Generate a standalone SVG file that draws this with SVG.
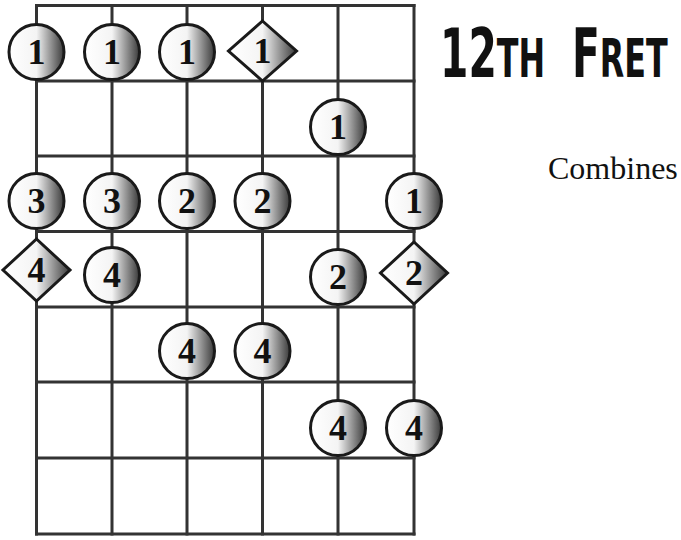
<svg xmlns="http://www.w3.org/2000/svg" width="681" height="540" viewBox="0 0 681 540">
<defs>
<linearGradient id="shade" x1="0" y1="0" x2="1" y2="0">
<stop offset="0" stop-color="#ffffff"/>
<stop offset="0.5" stop-color="#f4f4f4"/>
<stop offset="1" stop-color="#3a3a3a"/>
</linearGradient>
<style>
.grid line{stroke:#333;stroke-width:3;stroke-linecap:square}
.dot{fill:url(#shade);stroke:#1a1a1a;stroke-width:3}
.num{font-family:"Liberation Serif","DejaVu Serif",serif;font-weight:bold;font-size:36px;fill:#111;text-anchor:middle}
.title{font-family:"DejaVu Sans","Liberation Sans",sans-serif;font-weight:bold;fill:#111}
.big{font-size:68px}
.small{font-size:53px}
.cap{font-family:"Liberation Serif","Times New Roman",serif;font-size:32px;fill:#111}
</style>
</defs>
<rect width="681" height="540" fill="#fff"/>
<g id="grid" class="grid">
<line x1="36.5" y1="5.5" x2="36.5" y2="534"/>
<line x1="112" y1="5.5" x2="112" y2="534"/>
<line x1="187" y1="5.5" x2="187" y2="534"/>
<line x1="262.5" y1="5.5" x2="262.5" y2="534"/>
<line x1="338" y1="5.5" x2="338" y2="534"/>
<line x1="414" y1="5.5" x2="414" y2="534"/>
<line x1="36.5" y1="5.5" x2="414" y2="5.5"/>
<line x1="36.5" y1="81" x2="414" y2="81"/>
<line x1="36.5" y1="156" x2="414" y2="156"/>
<line x1="36.5" y1="231.5" x2="414" y2="231.5"/>
<line x1="36.5" y1="307" x2="414" y2="307"/>
<line x1="36.5" y1="382" x2="414" y2="382"/>
<line x1="36.5" y1="458" x2="414" y2="458"/>
<line x1="36.5" y1="534" x2="414" y2="534"/>
</g>
<g id="n1"><circle class="dot" cx="36.5" cy="52" r="27.5"/><text class="num" x="36.5" y="64">1</text></g>
<g id="n2"><circle class="dot" cx="112" cy="52" r="27.5"/><text class="num" x="112" y="64">1</text></g>
<g id="n3"><circle class="dot" cx="187" cy="52" r="27.5"/><text class="num" x="187" y="64">1</text></g>
<g id="n4"><polygon class="dot" points="262.5,21 296.5,51 262.5,81 228.5,51"/><text class="num" x="262.5" y="63">1</text></g>
<g id="n5"><circle class="dot" cx="338" cy="127" r="27.5"/><text class="num" x="338" y="139">1</text></g>
<g id="n6"><circle class="dot" cx="36.5" cy="201" r="27.5"/><text class="num" x="36.5" y="213">3</text></g>
<g id="n7"><circle class="dot" cx="112" cy="201" r="27.5"/><text class="num" x="112" y="213">3</text></g>
<g id="n8"><circle class="dot" cx="187" cy="201" r="27.5"/><text class="num" x="187" y="213">2</text></g>
<g id="n9"><circle class="dot" cx="262.5" cy="201" r="27.5"/><text class="num" x="262.5" y="213">2</text></g>
<g id="n10"><circle class="dot" cx="414" cy="201" r="27.5"/><text class="num" x="414" y="213">1</text></g>
<g id="n11"><polygon class="dot" points="36.5,239 70,270 36.5,301 3,270"/><text class="num" x="36.5" y="282">4</text></g>
<g id="n12"><circle class="dot" cx="112" cy="275" r="27.5"/><text class="num" x="112" y="287">4</text></g>
<g id="n13"><circle class="dot" cx="338" cy="277" r="27.5"/><text class="num" x="338" y="289">2</text></g>
<g id="n14"><polygon class="dot" points="414,242 447.5,273 414,304 380.5,273"/><text class="num" x="414" y="285">2</text></g>
<g id="n15"><circle class="dot" cx="187" cy="351" r="27.5"/><text class="num" x="187" y="363">4</text></g>
<g id="n16"><circle class="dot" cx="262.5" cy="351" r="27.5"/><text class="num" x="262.5" y="363">4</text></g>
<g id="n17"><circle class="dot" cx="338" cy="428" r="27.5"/><text class="num" x="338" y="440">4</text></g>
<g id="n18"><circle class="dot" cx="414" cy="428" r="27.5"/><text class="num" x="414" y="440">4</text></g>
<g id="title" class="title">
<text transform="translate(440,77) scale(0.6,1)"><tspan class="big">12</tspan><tspan class="small">TH</tspan></text>
<text transform="translate(572,77) scale(0.6,1)"><tspan class="big">F</tspan><tspan class="small">RET</tspan></text>
</g>
<text class="cap" x="548" y="179">Combines</text>
</svg>
